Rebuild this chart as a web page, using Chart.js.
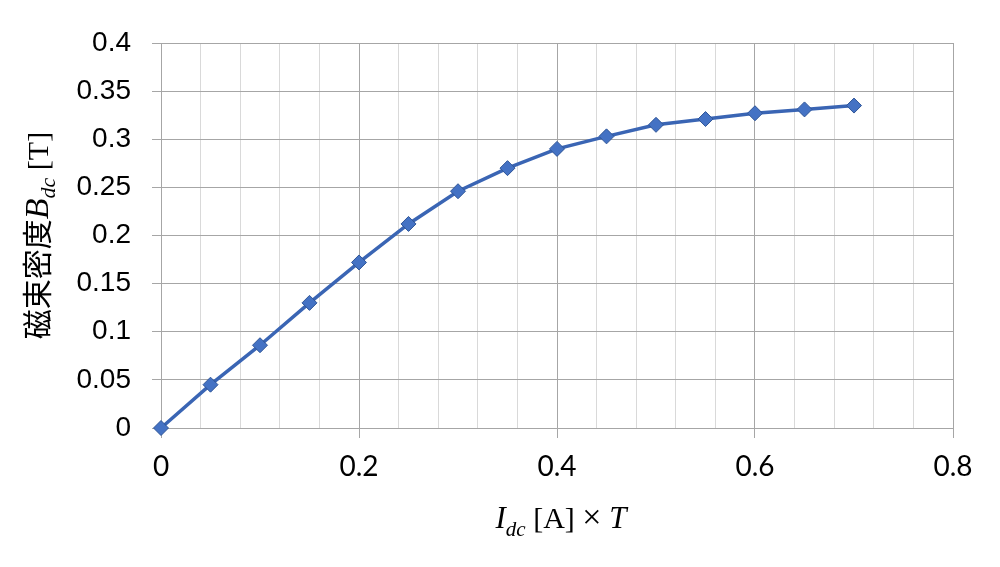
<!DOCTYPE html>
<html>
<head>
<meta charset="utf-8">
<script src="https://cdn.jsdelivr.net/npm/chart.js@4.4.1/dist/chart.umd.min.js"></script>
<style>
  html, body { margin: 0; padding: 0; background: #fff; }
  #wrap { width: 1000px; height: 567px; }
</style>
</head>
<body>
<div id="wrap"><canvas id="chart" width="1000" height="567"></canvas></div>
<script>
// I_dc x T  vs  flux density B_dc
const currents = [0, 0.05, 0.1, 0.15, 0.2, 0.25, 0.3, 0.35, 0.4, 0.45, 0.5, 0.55, 0.6, 0.65, 0.7]
const fluxDensity = [0, 0.045, 0.086, 0.130, 0.172, 0.212, 0.246, 0.270, 0.290, 0.303, 0.315, 0.321, 0.327, 0.331, 0.335]
const xTickLabels = ["0", "0.2", "0.4", "0.6", "0.8"]
const yTickLabels = ["0", "0.05", "0.1", "0.15", "0.2", "0.25", "0.3", "0.35", "0.4"]

const MAJOR = "#a6a6a6"
const MINOR = "#d9d9d9"
const SERIF = "'Liberation Serif', 'DejaVu Serif', serif"

const isMajorX = v => Math.abs(v / 0.2 - Math.round(v / 0.2)) < 1e-6

// draws a run of differently styled pieces centred on (0,0), baseline at 0
function drawRich(ctx, parts) {
  let total = 0
  parts.forEach(p => { ctx.font = p.font; p.w = ctx.measureText(p.text).width; total += p.w })
  let x = -total / 2
  parts.forEach(p => {
    ctx.font = p.font
    ctx.fillText(p.text, x, p.dy || 0)
    x += p.w
  })
}

const titles = {
  id: "titles",
  afterDraw(chart) {
    const ctx = chart.ctx
    const area = chart.chartArea
    ctx.save()
    ctx.fillStyle = "#000"
    ctx.textBaseline = "alphabetic"
    ctx.textAlign = "left"

    ctx.save()
    ctx.translate(561, 528)
    drawRich(ctx, [
      { text: "I", font: `italic 31px ${SERIF}` },
      { text: "dc", font: `italic 21px ${SERIF}`, dy: 8 },
      { text: " [A] ", font: `30px ${SERIF}` },
      { text: "×", font: `34px ${SERIF}` },
      { text: " T", font: `italic 31px ${SERIF}` },
    ])
    ctx.restore()

    ctx.save()
    ctx.translate(48, (area.top + area.bottom) / 2)
    ctx.rotate(-Math.PI / 2)
    drawRich(ctx, [
      { text: "磁束密度", font: "30px 'Noto Sans CJK JP'" },
      { text: "B", font: `italic 34px ${SERIF}` },
      { text: "dc", font: `italic 22px ${SERIF}`, dy: 7 },
      { text: " [T]", font: `30px ${SERIF}` },
    ])
    ctx.restore()

    ctx.restore()
  },
}

new Chart(document.getElementById("chart"), {
  type: "line",
  data: {
    datasets: [{
      data: currents.map((x, i) => ({ x, y: fluxDensity[i] })),
      borderColor: "#3a65b4",
      borderWidth: 3.5,
      pointStyle: "rectRot",
      pointRadius: 7.5,
      pointBackgroundColor: "#4472c4",
      pointBorderColor: "#2f5597",
      pointBorderWidth: 1,
      tension: 0,
      clip: false,
    }],
  },
  options: {
    responsive: false,
    animation: false,
    devicePixelRatio: 1,
    layout: { padding: { left: 0, top: 43, right: 47, bottom: 0 } },
    plugins: { legend: { display: false }, tooltip: { enabled: false } },
    scales: {
      x: {
        type: "linear",
        min: 0,
        max: 0.8,
        afterFit: s => { s.height = 139 },
        border: { color: MAJOR, width: 1 },
        grid: {
          color: c => isMajorX(c.tick.value) ? MAJOR : MINOR,
          tickColor: c => isMajorX(c.tick.value) ? MAJOR : "transparent",
          tickLength: 10,
        },
        ticks: {
          stepSize: 0.04,
          autoSkip: false,
          maxRotation: 0,
          padding: 12,
          color: "#000",
          font: { family: "Lato", size: 28 },
          callback: v => isMajorX(v) ? xTickLabels[Math.round(v / 0.2)] : "",
        },
      },
      y: {
        min: 0,
        max: 0.4,
        afterFit: s => { s.width = 161 },
        border: { color: MAJOR, width: 1 },
        grid: { color: MAJOR, tickColor: MAJOR, tickLength: 9 },
        ticks: {
          stepSize: 0.05,
          padding: 21,
          color: "#000",
          font: { family: "'Liberation Sans'", size: 28 },
          callback: v => yTickLabels[Math.round(v / 0.05)],
        },
      },
    },
  },
  plugins: [titles],
})
</script>
</body>
</html>
